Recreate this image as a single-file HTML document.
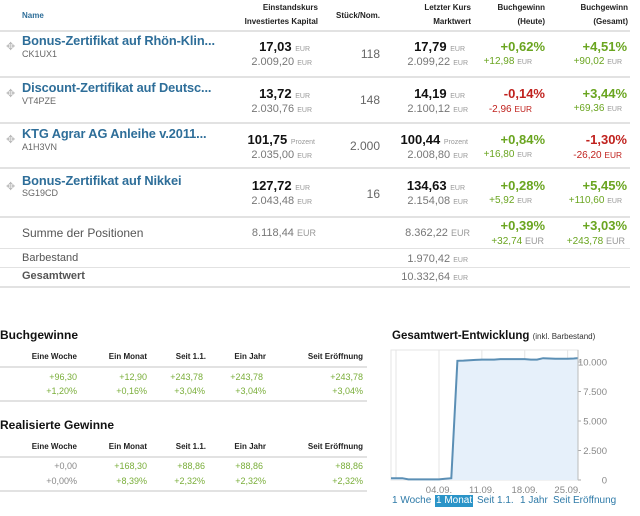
<!DOCTYPE html>
<html><head><meta charset="utf-8"><style>
*{margin:0;padding:0;box-sizing:border-box}
body{width:640px;height:516px;background:#fff;font-family:"Liberation Sans",Arial,sans-serif;position:relative;overflow:hidden;color:#333}
.a{position:absolute;white-space:nowrap}
.r{position:absolute;white-space:nowrap;text-align:right}
.h{font-size:8px;font-weight:bold;color:#222;line-height:10px}
.line{position:absolute;height:2px;background:#e2e2e2}
.t{font-size:12.8px;font-weight:bold;color:#2e6e99;line-height:16px;letter-spacing:-0.1px}
.c{font-size:9px;color:#666;line-height:11px}
.p{font-size:13px;font-weight:bold;color:#111;line-height:15px}
.p small,.s small,.g small{font-size:7px;font-weight:normal;color:#999}
.s{font-size:11px;color:#777;line-height:13px}
.q{font-size:12px;color:#666;line-height:14px}
.gp{font-size:13px;font-weight:bold;color:#6aa520;line-height:15px}
.rp{font-size:13px;font-weight:bold;color:#c0221e;line-height:15px}
.g{font-size:10px;color:#6aa520;line-height:12px}
.rd{font-size:10px;color:#c0221e;line-height:12px}
.drag{font-size:11px;color:#bbb;line-height:12px}
.sec{font-size:12px;font-weight:bold;color:#111;line-height:14px}
.v{font-size:9px;color:#7aae3a;line-height:11px}
.lk{font-size:10px;color:#2e7aa8;line-height:12px}
</style></head><body>
<!-- header -->
<div class="a h" style="left:22px;top:11px;color:#2e6e99">Name</div>
<div class="r h" style="right:322px;top:3px">Einstandskurs</div>
<div class="r h" style="right:322px;top:17px">Investiertes Kapital</div>
<div class="r h" style="right:260px;top:11px">Stück/Nom.</div>
<div class="r h" style="right:169px;top:3px">Letzter Kurs</div>
<div class="r h" style="right:169px;top:17px">Marktwert</div>
<div class="r h" style="right:95px;top:3px">Buchgewinn</div>
<div class="r h" style="right:95px;top:17px">(Heute)</div>
<div class="r h" style="right:12px;top:3px">Buchgewinn</div>
<div class="r h" style="right:12px;top:17px">(Gesamt)</div>
<div class="line" style="left:0;width:630px;top:30px"></div>

<!-- row 1 -->
<div class="a drag" style="left:6px;top:41px">✥</div>
<div class="a t" style="left:22px;top:33px">Bonus-Zertifikat auf Rhön-Klin...</div>
<div class="a c" style="left:22px;top:49px">CK1UX1</div>
<div class="r p" style="right:330px;top:39px">17,03 <small>EUR</small></div>
<div class="r s" style="right:328px;top:56px">2.009,20 <small>EUR</small></div>
<div class="r q" style="right:260px;top:47px">118</div>
<div class="r p" style="right:175px;top:39px">17,79 <small>EUR</small></div>
<div class="r s" style="right:172px;top:56px">2.099,22 <small>EUR</small></div>
<div class="r gp" style="right:95px;top:39px">+0,62%</div>
<div class="r g" style="right:108px;top:56px">+12,98 <small>EUR</small></div>
<div class="r gp" style="right:13px;top:39px">+4,51%</div>
<div class="r g" style="right:18px;top:56px">+90,02 <small>EUR</small></div>
<div class="line" style="left:0;width:630px;top:76px"></div>

<!-- row 2 -->
<div class="a drag" style="left:6px;top:88px">✥</div>
<div class="a t" style="left:22px;top:80px">Discount-Zertifikat auf Deutsc...</div>
<div class="a c" style="left:22px;top:96px">VT4PZE</div>
<div class="r p" style="right:330px;top:86px">13,72 <small>EUR</small></div>
<div class="r s" style="right:328px;top:103px">2.030,76 <small>EUR</small></div>
<div class="r q" style="right:260px;top:93px">148</div>
<div class="r p" style="right:175px;top:86px">14,19 <small>EUR</small></div>
<div class="r s" style="right:172px;top:103px">2.100,12 <small>EUR</small></div>
<div class="r rp" style="right:95px;top:86px">-0,14%</div>
<div class="r rd" style="right:108px;top:103px">-2,96 <small>EUR</small></div>
<div class="r gp" style="right:13px;top:86px">+3,44%</div>
<div class="r g" style="right:18px;top:103px">+69,36 <small>EUR</small></div>
<div class="line" style="left:0;width:630px;top:122px"></div>

<!-- row 3 -->
<div class="a drag" style="left:6px;top:134px">✥</div>
<div class="a t" style="left:22px;top:126px">KTG Agrar AG Anleihe v.2011...</div>
<div class="a c" style="left:22px;top:142px">A1H3VN</div>
<div class="r p" style="right:325px;top:132px">101,75 <small>Prozent</small></div>
<div class="r s" style="right:328px;top:149px">2.035,00 <small>EUR</small></div>
<div class="r q" style="right:260px;top:139px">2.000</div>
<div class="r p" style="right:172px;top:132px">100,44 <small>Prozent</small></div>
<div class="r s" style="right:172px;top:149px">2.008,80 <small>EUR</small></div>
<div class="r gp" style="right:95px;top:132px">+0,84%</div>
<div class="r g" style="right:108px;top:149px">+16,80 <small>EUR</small></div>
<div class="r rp" style="right:13px;top:132px">-1,30%</div>
<div class="r rd" style="right:18px;top:149px">-26,20 <small>EUR</small></div>
<div class="line" style="left:0;width:630px;top:167px"></div>

<!-- row 4 -->
<div class="a drag" style="left:6px;top:181px">✥</div>
<div class="a t" style="left:22px;top:173px">Bonus-Zertifikat auf Nikkei</div>
<div class="a c" style="left:22px;top:188px">SG19CD</div>
<div class="r p" style="right:330px;top:178px">127,72 <small>EUR</small></div>
<div class="r s" style="right:328px;top:195px">2.043,48 <small>EUR</small></div>
<div class="r q" style="right:260px;top:187px">16</div>
<div class="r p" style="right:175px;top:178px">134,63 <small>EUR</small></div>
<div class="r s" style="right:172px;top:195px">2.154,08 <small>EUR</small></div>
<div class="r gp" style="right:95px;top:178px">+0,28%</div>
<div class="r g" style="right:108px;top:195px">+5,92 <small>EUR</small></div>
<div class="r gp" style="right:13px;top:178px">+5,45%</div>
<div class="r g" style="right:18px;top:195px">+110,60 <small>EUR</small></div>
<div class="line" style="left:0;width:630px;top:216px"></div>

<!-- summe -->
<div class="a" style="left:22px;top:226px;font-size:12px;color:#555;line-height:14px">Summe der Positionen</div>
<div class="r s" style="right:324px;top:227px">8.118,44 <small style="font-size:9px">EUR</small></div>
<div class="r s" style="right:170px;top:227px">8.362,22 <small style="font-size:9px">EUR</small></div>
<div class="r gp" style="right:95px;top:218px">+0,39%</div>
<div class="r g" style="right:96px;top:235px">+32,74 <small style="font-size:9px">EUR</small></div>
<div class="r gp" style="right:13px;top:218px">+3,03%</div>
<div class="r g" style="right:15px;top:235px">+243,78 <small style="font-size:9px">EUR</small></div>
<div class="line" style="left:0;width:630px;top:248px;height:1px"></div>
<div class="a" style="left:22px;top:252px;font-size:11px;color:#555;line-height:13px">Barbestand</div>
<div class="r s" style="right:172px;top:253px">1.970,42 <small>EUR</small></div>
<div class="line" style="left:0;width:630px;top:267px;height:1px"></div>
<div class="a" style="left:22px;top:270px;font-size:11px;font-weight:bold;color:#555;line-height:13px">Gesamtwert</div>
<div class="r s" style="right:172px;top:271px">10.332,64 <small>EUR</small></div>
<div class="line" style="left:0;width:630px;top:286px"></div>

<!-- Buchgewinne -->
<div class="a sec" style="left:0;top:328px">Buchgewinne</div>
<div class="r h" style="right:563px;top:352px">Eine Woche</div>
<div class="r h" style="right:493px;top:352px">Ein Monat</div>
<div class="r h" style="right:434px;top:352px">Seit 1.1.</div>
<div class="r h" style="right:374px;top:352px">Ein Jahr</div>
<div class="r h" style="right:277px;top:352px">Seit Eröffnung</div>
<div class="line" style="left:0;width:367px;top:366px"></div>
<div class="r v" style="right:563px;top:372px">+96,30</div>
<div class="r v" style="right:493px;top:372px">+12,90</div>
<div class="r v" style="right:437px;top:372px">+243,78</div>
<div class="r v" style="right:377px;top:372px">+243,78</div>
<div class="r v" style="right:277px;top:372px">+243,78</div>
<div class="r v" style="right:563px;top:386px">+1,20%</div>
<div class="r v" style="right:493px;top:386px">+0,16%</div>
<div class="r v" style="right:435px;top:386px">+3,04%</div>
<div class="r v" style="right:374px;top:386px">+3,04%</div>
<div class="r v" style="right:277px;top:386px">+3,04%</div>
<div class="line" style="left:0;width:367px;top:400px"></div>

<!-- Realisierte Gewinne -->
<div class="a sec" style="left:0;top:418px">Realisierte Gewinne</div>
<div class="r h" style="right:563px;top:442px">Eine Woche</div>
<div class="r h" style="right:493px;top:442px">Ein Monat</div>
<div class="r h" style="right:434px;top:442px">Seit 1.1.</div>
<div class="r h" style="right:374px;top:442px">Ein Jahr</div>
<div class="r h" style="right:277px;top:442px">Seit Eröffnung</div>
<div class="line" style="left:0;width:367px;top:456px"></div>
<div class="r v" style="right:563px;top:461px;color:#888">+0,00</div>
<div class="r v" style="right:493px;top:461px">+168,30</div>
<div class="r v" style="right:435px;top:461px">+88,86</div>
<div class="r v" style="right:377px;top:461px">+88,86</div>
<div class="r v" style="right:277px;top:461px">+88,86</div>
<div class="r v" style="right:563px;top:476px;color:#888">+0,00%</div>
<div class="r v" style="right:493px;top:476px">+8,39%</div>
<div class="r v" style="right:435px;top:476px">+2,32%</div>
<div class="r v" style="right:374px;top:476px">+2,32%</div>
<div class="r v" style="right:277px;top:476px">+2,32%</div>
<div class="line" style="left:0;width:367px;top:490px"></div>

<!-- chart -->
<div class="a sec" style="left:392px;top:329px;font-size:11.5px">Gesamtwert-Entwicklung <span style="font-size:8px;font-weight:normal;color:#333">(inkl. Barbestand)</span></div>
<svg class="a" style="left:0;top:0" width="640" height="516" id="chart"></svg>
<div class="a lk" style="left:392px;top:495px">1 Woche</div>
<div class="a lk" style="left:435px;top:495px;background:#2a94c8;color:#fff;padding:0 1px">1 Monat</div>
<div class="a lk" style="left:477px;top:495px">Seit 1.1.</div>
<div class="a lk" style="left:520px;top:495px">1 Jahr</div>
<div class="a lk" style="left:553px;top:495px">Seit Eröffnung</div>

<script>
const dayLabels = ["04.09.","11.09.","18.09.","25.09."];
const dayLabelIndex = [8,15,22,29];
const yTicks = [0,2500,5000,7500,10000];
const yTickLabels = ["0","2.500","5.000","7.500","10.000"];
const values = [150,150,150,50,50,50,50,50,50,100,150,10100,10120,10150,10180,10200,10200,10200,10250,10250,10250,10250,10250,10200,10200,10320,10300,10280,10280,10280,10300,10330];

const NS="http://www.w3.org/2000/svg";
const svg=document.getElementById('chart');
const L=391,R=578,T=350,B=480;
const x=i=>390+i*(439-390)/8;
const y=v=>B-(v/10000)*(B-362);
function mk(tag,attrs){const e=document.createElementNS(NS,tag);for(const k in attrs)e.setAttribute(k,attrs[k]);svg.appendChild(e);return e;}

const frame=mk('rect',{x:L,y:T,width:R-L,height:B-T,fill:'#fff',stroke:'#e6e6e6'});


const g0=mk('line',{x1:396,x2:396,y1:T,y2:B,stroke:'#e4e4e4'});


dayLabelIndex.forEach((di,k)=>{
  const gl=mk('line',{x1:x(di),x2:x(di),y1:T,y2:B,stroke:'#e4e4e4'});
  
  
  const t=mk('text',{x:x(di),y:493,'text-anchor':'middle','font-size':'9.5',fill:'#888','font-family':'Liberation Sans, sans-serif'});
  t.textContent=dayLabels[k];
  
  
});
yTicks.forEach((v,k)=>{
  const tk=mk('line',{x1:R,x2:R+3,y1:y(v),y2:y(v),stroke:'#aaa'});
  
  
  const t=mk('text',{x:607,y:y(v)+3.5,'text-anchor':'end','font-size':'9.5',fill:'#888','font-family':'Liberation Sans, sans-serif'});
  t.textContent=yTickLabels[k];
  
  
});
let d='';values.forEach((v,i)=>{d+=(i?'L':'M')+Math.max(L,Math.min(R,x(i))).toFixed(1)+','+y(v).toFixed(1);});
const area=mk('path',{d:d+'L'+R+','+B+'L'+L+','+B+'Z',fill:'#e6f0fa'});


const ln=mk('path',{d:d,fill:'none',stroke:'#5b8fb5','stroke-width':'2'});


const ax=mk('line',{x1:R,x2:R,y1:T,y2:B,stroke:'#bbb'});


</script>
</body></html>
